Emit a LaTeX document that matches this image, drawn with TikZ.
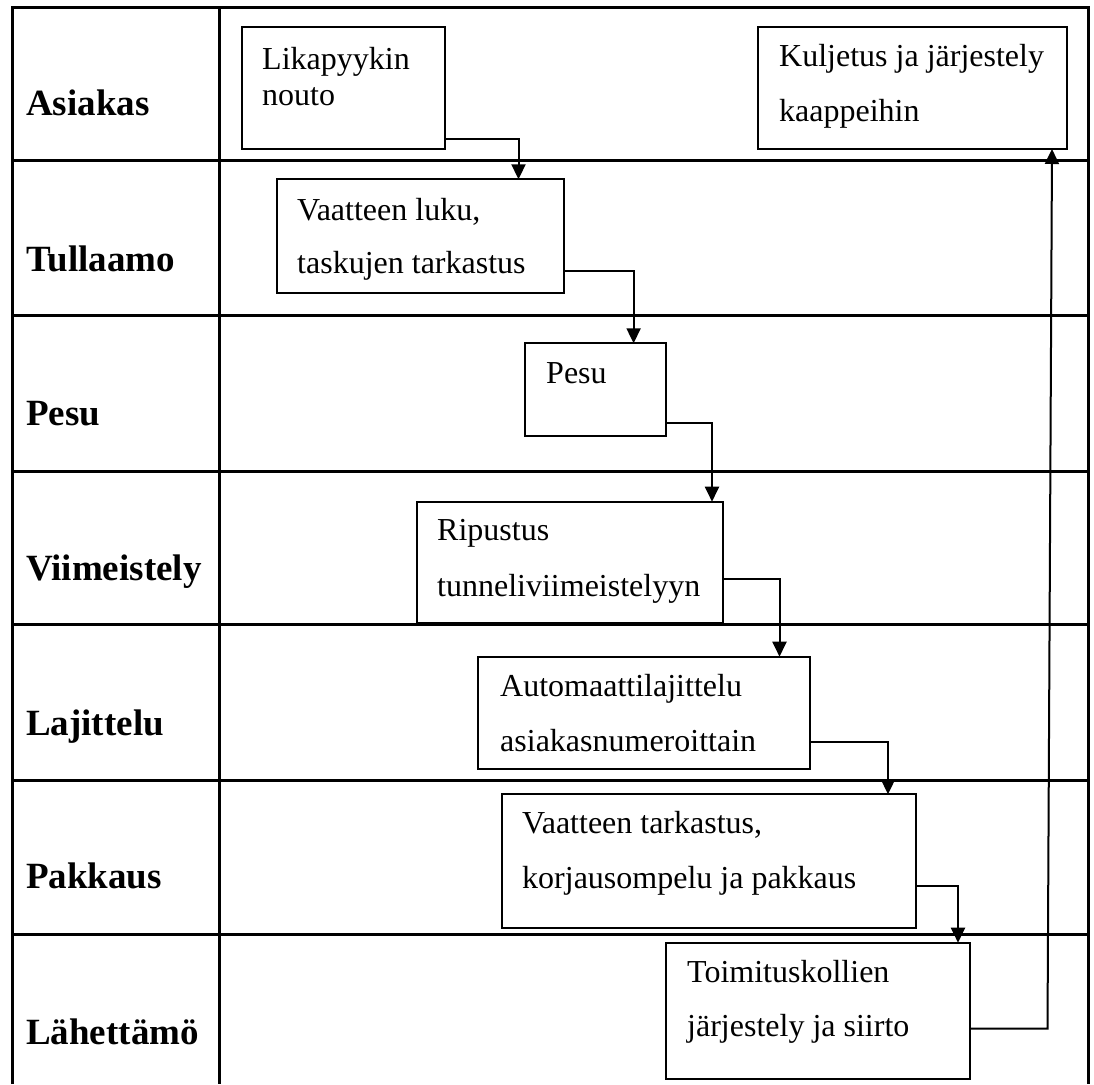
\documentclass[tikz,border=0pt]{standalone}
\usepackage{fontspec}
\setmainfont{Liberation Serif}
\usetikzlibrary{arrows.meta}
\tikzset{
  gridline/.style={line width=3pt},
  box/.style={draw, line width=2pt, inner sep=0pt, outer sep=0pt, anchor=north west},
  txt/.style={font=\fontsize{32}{38}\selectfont, anchor=base west, inner sep=0pt},
  lane/.style={font=\fontsize{37}{44}\selectfont\bfseries, anchor=base west, inner sep=0pt},
  arr/.style={line width=2pt, -{Triangle[length=15pt,width=14pt]}},
}
\begin{document}
\begin{tikzpicture}[x=1pt,y=-1pt]
\useasboundingbox (0,0) rectangle (1094,1084);
% table
\draw[gridline] (12,1084) -- (12,7) -- (1088,7) -- (1088,1084);
\draw[gridline] (219,7) -- (219,1084);
\foreach \yy in {160,315.5,471,624.3,780,934.7}
  \draw[gridline] (12,\yy) -- (1088,\yy);
% lane labels
\node[lane] (l1) at (26,115) {Asiakas};
\node[lane] (l2) at (26,271.7) {Tullaamo};
\node[lane] (l3) at (26,425) {Pesu};
\node[lane] (l4) at (26,580) {Viimeistely};
\node[lane] (l5) at (26,735) {Lajittelu};
\node[lane] (l6) at (26,888.3) {Pakkaus};
\node[lane] (l7) at (26,1044) {Lähettämö};
% boxes
\node[box, minimum width=202.5pt, minimum height=122pt] (lika) at (242,27) {};
\node[box, minimum width=309pt, minimum height=122pt] (kulj) at (758,27) {};
\node[box, minimum width=287pt, minimum height=114pt] (luku) at (277,179.3) {};
\node[box, minimum width=141pt, minimum height=92.7pt] (pesu) at (525,343.3) {};
\node[box, minimum width=306pt, minimum height=121.6pt] (rip) at (417,501.7) {};
\node[box, minimum width=332pt, minimum height=112.6pt] (auto) at (478.4,656.7) {};
\node[box, minimum width=414pt, minimum height=134pt] (tark) at (501.6,794.3) {};
\node[box, minimum width=304pt, minimum height=136.3pt] (toim) at (666,942.7) {};
% box texts
\node[txt] (lika1) at (262,69) {Likapyykin};
\node[txt] (lika2) at (262,105) {nouto};
\node[txt] (kulj1) at (779,66.7) {Kuljetus ja järjestely};
\node[txt] (kulj2) at (779,121.7) {kaappeihin};
\node[txt] (luku1) at (297,220) {Vaatteen luku,};
\node[txt] (luku2) at (297,273) {taskujen tarkastus};
\node[txt] (pesu1) at (546,383.3) {Pesu};
\node[txt] (rip1) at (437,540) {Ripustus};
\node[txt] (rip2) at (437,596) {tunneliviimeistelyyn};
\node[txt] (auto1) at (500,696.7) {Automaattilajittelu};
\node[txt] (auto2) at (500,751.7) {asiakasnumeroittain};
\node[txt] (tark1) at (522,833.3) {Vaatteen tarkastus,};
\node[txt] (tark2) at (522,888.3) {korjausompelu ja pakkaus};
\node[txt] (toim1) at (687,982.7) {Toimituskollien};
\node[txt] (toim2) at (687,1036.7) {järjestely ja siirto};
% connectors
\draw[arr] ([yshift=9.7pt]lika.south east) -| ([xshift=241.5pt]luku.north west);
\draw[arr] ([yshift=22.6pt]luku.south east) -| ([xshift=108.6pt]pesu.north west);
\draw[arr] ([yshift=12.7pt]pesu.south east) -| ([xshift=295pt]rip.north west);
\draw[arr] ([yshift=44pt]rip.south east) -| ([xshift=301.1pt]auto.north west);
\draw[arr] ([yshift=27.6pt]auto.south east) -| ([xshift=386.4pt]tark.north west);
\draw[arr] ([yshift=42.3pt]tark.south east) -| ([xshift=292pt]toim.north west);
\coordinate (turn) at (1047.5,1028.5);
\draw[arr] ([yshift=50.5pt]toim.south east) -- (turn) -- ([xshift=-15pt]kulj.south east);
\end{tikzpicture}
\end{document}
